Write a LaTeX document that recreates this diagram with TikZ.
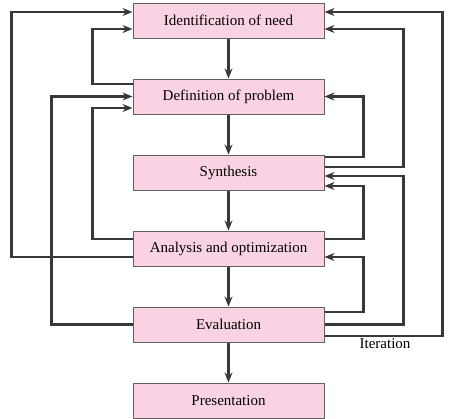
\documentclass[tikz,border=0pt]{standalone}
\usepackage{fontspec}
\setmainfont{Liberation Serif}
\usetikzlibrary{arrows.meta,positioning}
\definecolor{boxpink}{HTML}{F9D3E4}
\definecolor{boxedge}{HTML}{606060}
\definecolor{linegray}{HTML}{383838}

\begin{document}
\begin{tikzpicture}[x=1pt, y=-1pt,
    node distance=40pt,
    box/.style={draw=boxedge, fill=boxpink, line width=1pt, minimum width=191pt,
        minimum height=35pt, inner sep=0pt, font=\fontsize{15}{18}\selectfont},
    flow/.style={draw=linegray, line width=2.3pt, -{Stealth[length=10pt,width=8pt]}},
    back/.style={draw=linegray, line width=2.3pt, -{Stealth[length=10pt,width=8pt]}}]
    \useasboundingbox (0,0) rectangle (449,418);
    %% Boxes
    \node[box] (ident) at (228.5,20.5) {Identification of need};
    \node[box, below=of ident] (defn) {Definition of problem};
    \node[box, below=of defn] (synth) {Synthesis};
    \node[box, below=of synth] (anal) {Analysis and optimization};
    \node[box, below=of anal] (eval) {Evaluation};
    \node[box, below=of eval] (pres) {Presentation};
    %% Main flow
    \draw[flow] (ident) -- (defn);
    \draw[flow] (defn) -- (synth);
    \draw[flow] (synth) -- (anal);
    \draw[flow] (anal) -- (eval);
    \draw[flow] (eval) -- (pres);
    %% Left loops
    \draw[back] ([yshift=-8.5pt]anal.west) -- ++(-121,0) |- ([yshift=8.5pt]ident.west);
    \draw[back] ([yshift=12.5pt]defn.west) -- ++(-40,0) |- ([yshift=-8.5pt]ident.west);
    \draw[back] (eval.west) -- ++(-81,0) |- (defn.west);
    \draw[back] ([yshift=9.5pt]anal.west) -- ++(-40,0) |- ([yshift=-11.5pt]defn.west);
    %% Right loops
    \draw[back] ([yshift=-11.5pt]eval.east) -- ++(118,0) |- ([yshift=8.5pt]ident.east);
    \draw[back] ([yshift=5.5pt]synth.east) -- ++(79,0) |- ([yshift=-8.5pt]ident.east);
    \draw[back] ([yshift=15.5pt]synth.east) -- ++(39,0) |- (defn.east);
    \draw[back] (eval.east) -- ++(79,0) |- ([yshift=-3.5pt]synth.east);
    \draw[back] ([yshift=9.5pt]anal.east) -- ++(39,0) |- ([yshift=-13.5pt]synth.east);
    \draw[back] ([yshift=12.5pt]eval.east) -- ++(39,0) |- ([yshift=-8.5pt]anal.east);
    %% Label
    \node[font=\fontsize{15}{18}\selectfont, inner sep=0pt] (iter) at (385,344) {Iteration};
\end{tikzpicture}
\end{document}
